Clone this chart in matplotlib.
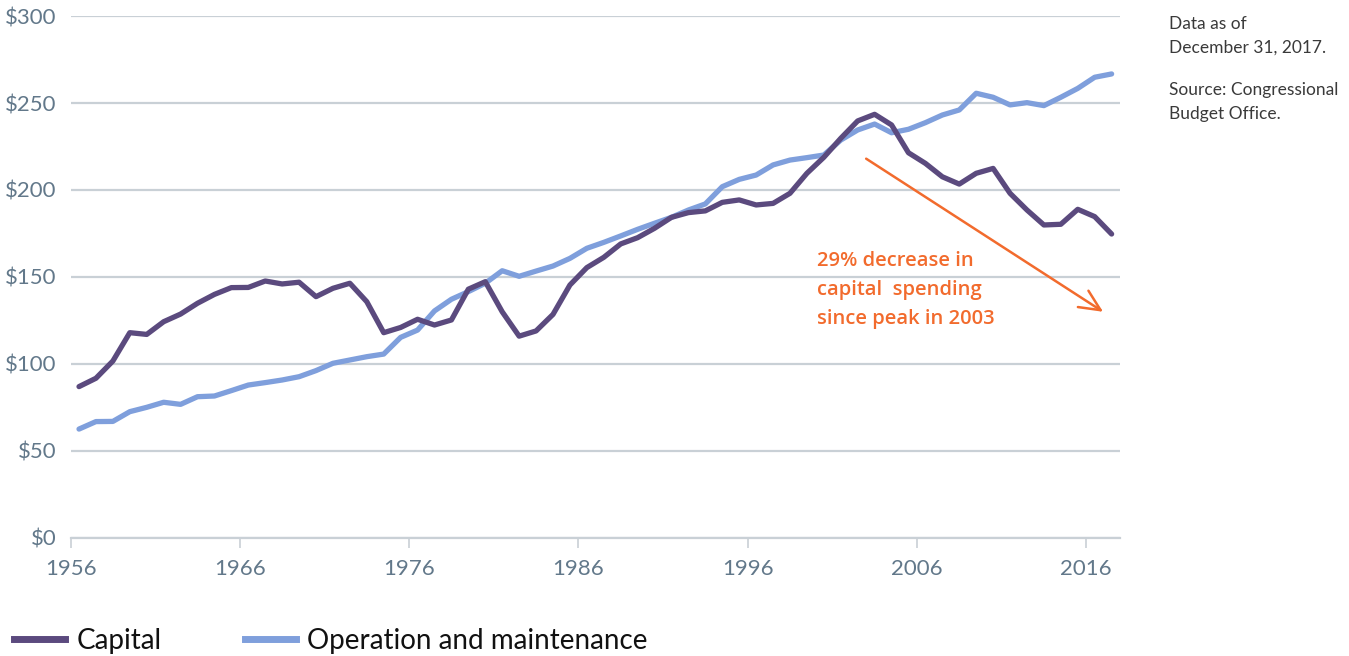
#!/usr/bin/env python3
"""Public spending on transportation and water infrastructure, capital vs O&M."""

import numpy as np
import matplotlib
matplotlib.use("Agg")
import matplotlib.pyplot as plt
from matplotlib.lines import Line2D

years = np.arange(1956, 2018)

# billions of 2017 dollars
capital = [
    87, 91.8, 101.7, 118, 117, 124.3, 128.7, 134.9, 140, 143.9,
    144, 147.7, 146, 147, 138.7, 143.5, 146.4, 135.8, 118, 121,
    125.7, 122.4, 125.3, 143, 147.3, 130, 116, 119, 128.5, 145.4,
    155.4, 161.3, 169, 172.6, 178, 184.3, 187, 188, 192.9, 194.3,
    191.4, 192.3, 198.1, 209.6, 218.8, 229.7, 239.7, 243.5, 237.4, 221.4,
    215.3, 207.6, 203.4, 209.6, 212.4, 198.1, 188.5, 179.9, 180.3, 188.9,
    184.7, 174.7,
]
operation_maintenance = [
    62.6, 66.9, 67, 72.6, 75.1, 78, 76.8, 81.2, 81.6, 84.7,
    87.9, 89.3, 90.8, 92.7, 96.2, 100.4, 102.3, 104.2, 105.7, 115.3,
    119.5, 130.5, 137.2, 141.6, 146.4, 153.6, 150.4, 153.4, 156.3, 160.7,
    166.5, 169.9, 173.6, 177.4, 180.9, 184.3, 188.5, 192, 201.9, 206.1,
    208.6, 214.4, 217.2, 218.6, 220.1, 228.7, 234.5, 237.9, 232.9, 234.9,
    238.7, 243.1, 246, 255.6, 253.3, 248.9, 250.2, 248.5, 253.3, 258.4,
    264.8, 266.7,
]
series_labels = ["Capital", "Operation and maintenance"]
y_ticks = [0, 50, 100, 150, 200, 250, 300]
x_ticks = [1956, 1966, 1976, 1986, 1996, 2006, 2016]

CAPITAL_COLOR = "#5b4a7e"
OM_COLOR = "#7f9fdc"
ORANGE = "#f26b2d"
TICK_COLOR = "#62788a"
GRID_COLOR = "#c9d0d6"
NARROW = ["Lato", "DejaVu Sans"]


def main():
    fig = plt.figure(figsize=(13.49, 6.56), dpi=100)
    ax = fig.add_axes([0.0523, 0.1799, 0.7780, 0.7957])

    # points sit mid-year
    x = years + 0.5
    ax.plot(x, capital, color=CAPITAL_COLOR, lw=3.8, solid_capstyle="round",
            solid_joinstyle="round", label=series_labels[0], zorder=3)
    ax.plot(x, operation_maintenance, color=OM_COLOR, lw=3.8, solid_capstyle="round",
            solid_joinstyle="round", label=series_labels[1], zorder=2)

    ax.set_xlim(1956, 2018)
    ax.set_ylim(0, 300)
    ax.set_yticks(y_ticks)
    ax.set_yticklabels([f"${v}" for v in y_ticks])
    ax.set_xticks(x_ticks)
    ax.set_xticklabels([str(v) for v in x_ticks])
    ax.yaxis.grid(True, color=GRID_COLOR, lw=1.6)
    ax.set_axisbelow(True)
    for side in ["top", "right", "left"]:
        ax.spines[side].set_visible(False)
    ax.spines["bottom"].set_color(GRID_COLOR)
    ax.spines["bottom"].set_linewidth(1.6)
    ax.tick_params(axis="y", length=0, pad=10, labelcolor=TICK_COLOR, labelsize=16)
    ax.tick_params(axis="x", length=7, width=1.2, color=GRID_COLOR, pad=8,
                   labelcolor=TICK_COLOR, labelsize=16)
    for lbl in ax.get_xticklabels() + ax.get_yticklabels():
        lbl.set_family(NARROW)

    ax.annotate("", xy=(2017.0, 130), xytext=(2003.0, 218),
                arrowprops=dict(arrowstyle="->,head_length=1.5,head_width=0.7",
                                color=ORANGE, lw=1.8, shrinkA=0, shrinkB=0))
    ax.text(2000.1, 165, "29% decrease in\ncapital  spending\nsince peak in 2003",
            color=ORANGE, fontsize=14.5, fontweight="semibold", va="top", ha="left",
            linespacing=1.6, family=["Open Sans", "DejaVu Sans"])

    fig.text(0.8666, 0.976, "Data as of\nDecember 31, 2017.", fontsize=12.5,
             color="#3a3a3a", va="top", ha="left", linespacing=1.6, family=NARROW)
    fig.text(0.8666, 0.875, "Source: Congressional\nBudget Office.", fontsize=12.5,
             color="#3a3a3a", va="top", ha="left", linespacing=1.6, family=NARROW)

    handles = [Line2D([], [], color=CAPITAL_COLOR, lw=5),
               Line2D([], [], color=OM_COLOR, lw=5)]
    leg = fig.legend(handles, series_labels, loc="lower left", ncol=2,
                     bbox_to_anchor=(-0.002, -0.022), frameon=False,
                     handlelength=1.85, handletextpad=0.4, columnspacing=3.0,
                     prop={"family": NARROW, "size": 20}, borderaxespad=0.2)
    for t in leg.get_texts():
        t.set_color("#111111")

    fig.savefig("out.png", dpi=100)


if __name__ == "__main__":
    main()
